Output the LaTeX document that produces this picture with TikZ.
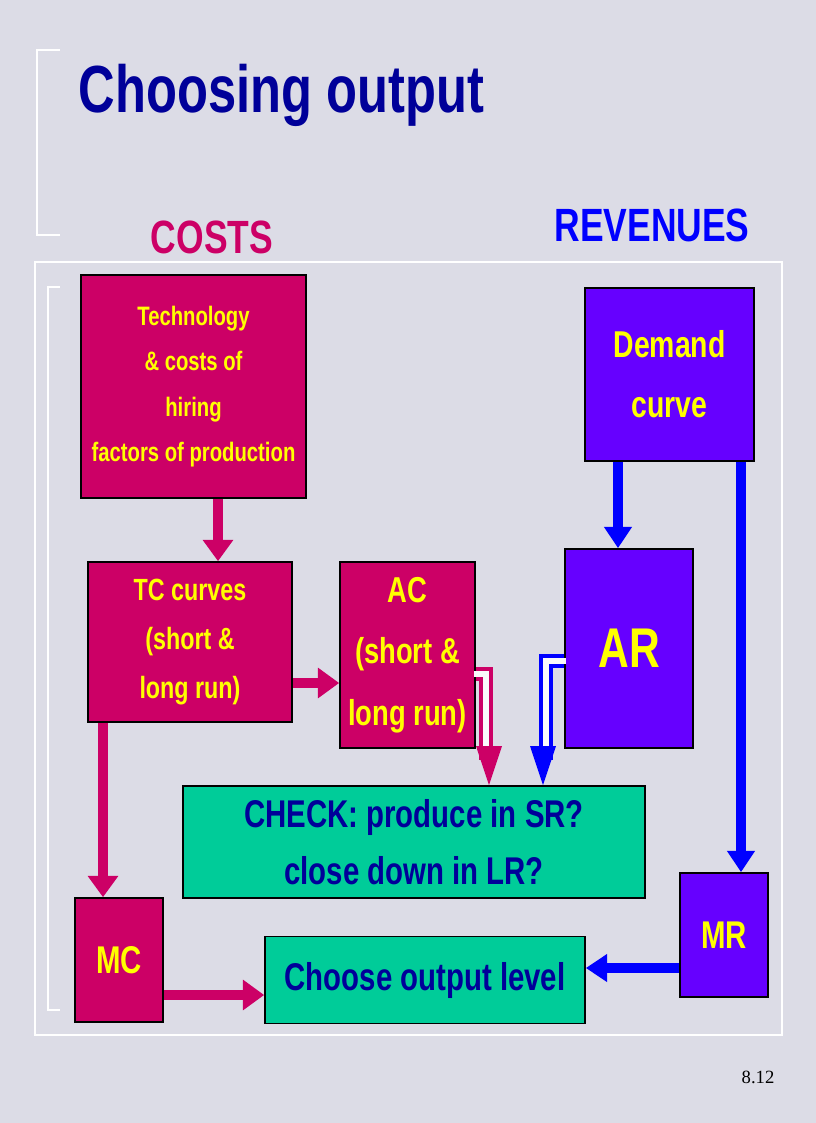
\documentclass[tikz,border=0pt]{standalone}
\usepackage{fontspec}
\setmainfont{Liberation Sans}[FakeStretch=0.76]
\usetikzlibrary{arrows.meta}
\definecolor{bg}{HTML}{DCDCE6}
\definecolor{mag}{HTML}{CC0066}
\definecolor{vio}{HTML}{6600FF}
\definecolor{tea}{HTML}{00CC99}
\definecolor{dblue}{HTML}{000099}
\definecolor{yel}{HTML}{FFFF00}
\tikzset{
  box/.style={draw=black,line width=1.2pt,inner sep=0pt,align=center,font=\bfseries},
  mbox/.style={box,fill=mag,text=yel},
  vbox/.style={box,fill=vio,text=yel},
  tbox/.style={box,fill=tea,text=dblue},
  marr/.style={mag,line width=8pt,-{Triangle[length=16pt,width=22pt]}},
  barr/.style={blue,line width=7pt,-{Triangle[length=16pt,width=20pt]}},
}
\begin{document}
\begin{tikzpicture}[x=0.75pt,y=-0.75pt]
\fill[bg] (0,0) rectangle (816,1123);
\useasboundingbox (0,0) rectangle (816,1123);
\draw[white,line width=1.2pt] (60,50) -- (37,50) -- (37,235) -- (60,235);
\draw[white,line width=1.2pt] (35,262) rectangle (782,1035);
\draw[white,line width=1.2pt] (60,287) -- (48,287) -- (48,1010) -- (60,1010);
\node[anchor=west,text=dblue,font=\bfseries\fontsize{50}{52}\selectfont] (title) at (74,95) {Choosing output};
\node[text=mag,font=\bfseries\fontsize{35}{36}\selectfont] (costs) at (212,237) {COSTS};
\node[text=blue,font=\bfseries\fontsize{35}{36}\selectfont] (rev) at (652,225) {REVENUES};
\node[font=\fontspec{Liberation Serif}\fontsize{14}{16}\selectfont] (pg) at (758,1077) {8.12};

\node[mbox,minimum width=225*0.75pt,minimum height=223*0.75pt,font=\bfseries\fontsize{20}{34}\selectfont] (tech) at (193.5,386.5) {Technology\\\& costs of\\hiring\\factors of production};
\node[mbox,minimum width=204*0.75pt,minimum height=160*0.75pt,font=\bfseries\fontsize{23}{37}\selectfont] (tc) at (190,642) {TC curves\\(short \&\\long run)};
\node[mbox,minimum width=135*0.75pt,minimum height=186*0.75pt,font=\bfseries\fontsize{27}{46}\selectfont] (ac) at (407.5,655) {AC\\(short \&\\long run)};
\node[vbox,minimum width=169*0.75pt,minimum height=173*0.75pt,font=\bfseries\fontsize{28}{45}\selectfont] (dem) at (669.5,374.5) {Demand\\curve};
\node[vbox,minimum width=128*0.75pt,minimum height=199*0.75pt,font=\bfseries\fontsize{42}{44}\selectfont] (ar) at (629,648.5) {AR};
\node[tbox,minimum width=462*0.75pt,minimum height=112*0.75pt,font=\bfseries\fontsize{29}{43}\selectfont] (chk) at (414,842) {CHECK: produce in SR?\\close down in LR?};
\node[mbox,minimum width=88*0.75pt,minimum height=124*0.75pt,font=\bfseries\fontsize{29}{32}\selectfont] (mc) at (119,960) {MC};
\node[tbox,minimum width=320*0.75pt,minimum height=87*0.75pt,font=\bfseries\fontsize{29}{32}\selectfont] (cho) at (425,980) {Choose output level};
\node[vbox,minimum width=88*0.75pt,minimum height=124*0.75pt,font=\bfseries\fontsize{29}{32}\selectfont] (mr) at (724,935) {MR};

\draw[marr] (tech.south -| 218,0) -- (tc.north -| 218,0);
\draw[marr] (tc.east |- 0,683) -- (ac.west |- 0,683);
\draw[marr] (tc.south -| 103,0) -- (mc.north -| 103,0);
\draw[marr] (mc.east |- 0,995) -- (cho.west |- 0,995);
\draw[barr] (mr.west |- 0,968) -- (cho.east |- 0,968);
\draw[barr] (dem.south -| 618,0) -- (ar.north -| 618,0);
\draw[barr] (dem.south -| 741,0) -- (mr.north -| 741,0);

\coordinate (acL) at (ac.east |- 0,674);
\coordinate (acE) at (486,760);
\coordinate (acT) at (chk.north -| 489,0);
\draw[mag,line width=11pt] (acL) -- (486,674) -- (acE);
\draw[white!85!bg,line width=5pt] ([xshift=-1pt]acL) -- (486,674) -- (acE);
\fill[mag] (476,746) -- (502,746) -- (acT) -- cycle;
\coordinate (arL) at (ar.west |- 0,661);
\coordinate (arE) at (546,760);
\coordinate (arT) at (chk.north -| 543,0);
\draw[blue,line width=11pt] (arL) -- (546,661) -- (arE);
\draw[white!85!bg,line width=5pt] ([xshift=1pt]arL) -- (546,661) -- (arE);
\fill[blue] (530,746) -- (556,746) -- (arT) -- cycle;
\end{tikzpicture}
\end{document}
